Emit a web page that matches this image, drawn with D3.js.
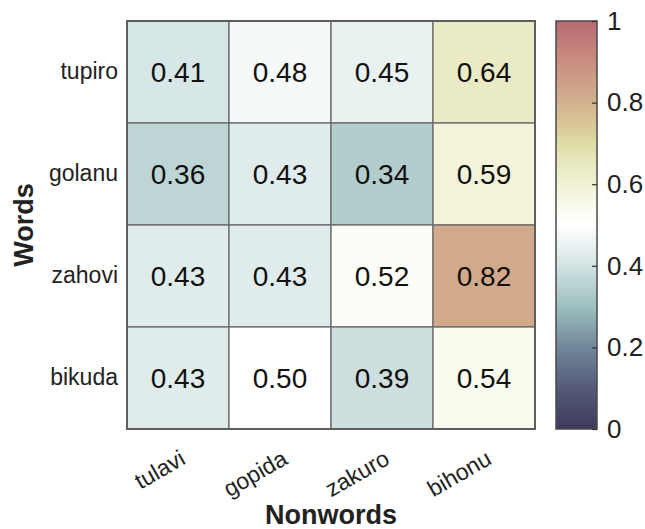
<!DOCTYPE html>
<html>
<head>
<meta charset="utf-8">
<script src="https://cdn.jsdelivr.net/npm/d3@7"></script>
<style>
  html, body { margin: 0; padding: 0; background: #fff; }
  svg { display: block; font-family: "Liberation Sans", Arial, sans-serif; }
</style>
</head>
<body>
<svg id="chart" width="645" height="529"></svg>
<script>
// Row (words) and column (nonwords) categories
const words = ["tupiro", "golanu", "zahovi", "bikuda"];
const nonwords = ["tulavi", "gopida", "zakuro", "bihonu"];

// Similarity values, one array per word row, ordered like nonwords
const tupiroValues = [0.41, 0.48, 0.45, 0.64];
const golanuValues = [0.36, 0.43, 0.34, 0.59];
const zahoviValues = [0.43, 0.43, 0.52, 0.82];
const bikudaValues = [0.43, 0.50, 0.39, 0.54];

// Colorbar ticks
const colorbarTicks = [0, 0.2, 0.4, 0.6, 0.8, 1];

// Diverging colormap stops
const cmapStops = [0, 0.1, 0.2, 0.3, 0.4, 0.5, 0.55, 0.6, 0.65, 0.7, 0.75, 0.8, 0.9, 1];
const cmapColors = ["#3d3b5c", "#555a78", "#71879a", "#9dbfbf", "#d3e3e3", "#ffffff",
                    "#f9f9ea", "#f1f1d6", "#e8e9bf", "#e0dca6", "#d9c697", "#d3b08e",
                    "#c98e80", "#b86a72"];

const rows = [tupiroValues, golanuValues, zahoviValues, bikudaValues];
const cells = [];
rows.forEach((vals, r) => vals.forEach((v, c) => cells.push({ word: words[r], nonword: nonwords[c], value: v })));

const svg = d3.select("#chart");
const plot = { left: 127, top: 21, width: 408, height: 408 };

const x = d3.scaleBand().domain(nonwords).range([plot.left, plot.left + plot.width]);
const y = d3.scaleBand().domain(words).range([plot.top, plot.top + plot.height]);
const color = d3.scaleLinear().domain(cmapStops).range(cmapColors).interpolate(d3.interpolateRgb).clamp(true);

// Heatmap cells
svg.append("g").selectAll("rect").data(cells).join("rect")
  .attr("x", d => x(d.nonword))
  .attr("y", d => y(d.word))
  .attr("width", x.bandwidth())
  .attr("height", y.bandwidth())
  .attr("fill", d => color(d.value))
  .attr("stroke", "#6a6a6a")
  .attr("stroke-width", 1.3);

// Value labels
svg.append("g").selectAll("text").data(cells).join("text")
  .attr("x", d => x(d.nonword) + x.bandwidth() / 2)
  .attr("y", d => y(d.word) + y.bandwidth() / 2)
  .attr("dy", "0.36em")
  .attr("text-anchor", "middle")
  .attr("font-size", 28)
  .attr("fill", "#111")
  .text(d => d.value.toFixed(2));

// Outer frame
svg.append("rect")
  .attr("x", plot.left).attr("y", plot.top)
  .attr("width", plot.width).attr("height", plot.height)
  .attr("fill", "none").attr("stroke", "#5e5e5e").attr("stroke-width", 2);

// Row labels
svg.append("g").selectAll("text").data(words).join("text")
  .attr("x", plot.left - 9)
  .attr("y", d => y(d) + y.bandwidth() / 2)
  .attr("dy", "0.3em")
  .attr("text-anchor", "end")
  .attr("font-size", 23)
  .attr("fill", "#222")
  .text(d => d);

// Column labels, rotated
svg.append("g").selectAll("text").data(nonwords).join("text")
  .attr("transform", d => `translate(${x(d) + x.bandwidth() / 2 + 9},${plot.top + plot.height + 34}) rotate(-30)`)
  .attr("text-anchor", "end")
  .attr("font-size", 23)
  .attr("fill", "#222")
  .text(d => d);

// Axis titles
svg.append("text")
  .attr("x", plot.left + plot.width / 2)
  .attr("y", 524)
  .attr("text-anchor", "middle")
  .attr("font-size", 27)
  .attr("font-weight", "bold")
  .attr("fill", "#222")
  .text("Nonwords");

svg.append("text")
  .attr("transform", `translate(33,${plot.top + plot.height / 2}) rotate(-90)`)
  .attr("text-anchor", "middle")
  .attr("font-size", 27)
  .attr("font-weight", "bold")
  .attr("fill", "#222")
  .text("Words");

// Colorbar
const cb = { left: 556, top: 21, width: 41, height: 408 };
const cbScale = d3.scaleLinear().domain([0, 1]).range([cb.top + cb.height, cb.top]);

const grad = svg.append("defs").append("linearGradient")
  .attr("id", "cbGrad").attr("x1", 0).attr("y1", 1).attr("x2", 0).attr("y2", 0);
grad.selectAll("stop").data(d3.range(0, 1.0001, 0.02)).join("stop")
  .attr("offset", d => d)
  .attr("stop-color", d => color(d));

svg.append("rect")
  .attr("x", cb.left).attr("y", cb.top)
  .attr("width", cb.width).attr("height", cb.height)
  .attr("fill", "url(#cbGrad)")
  .attr("stroke", "#4a4a4a").attr("stroke-width", 1.5);

const cbAxis = d3.axisRight(cbScale).tickValues(colorbarTicks).tickSize(-5)
  .tickFormat(d => d3.format("")(d));
const cbG = svg.append("g")
  .attr("transform", `translate(${cb.left + cb.width},0)`)
  .call(cbAxis);
cbG.select(".domain").remove();
cbG.selectAll(".tick line").attr("stroke", "#333").attr("stroke-width", 1.2);
cbG.selectAll(".tick text")
  .attr("x", 10)
  .attr("font-size", 26)
  .attr("font-family", "Liberation Sans, Arial, sans-serif")
  .attr("fill", "#222");
</script>
</body>
</html>
